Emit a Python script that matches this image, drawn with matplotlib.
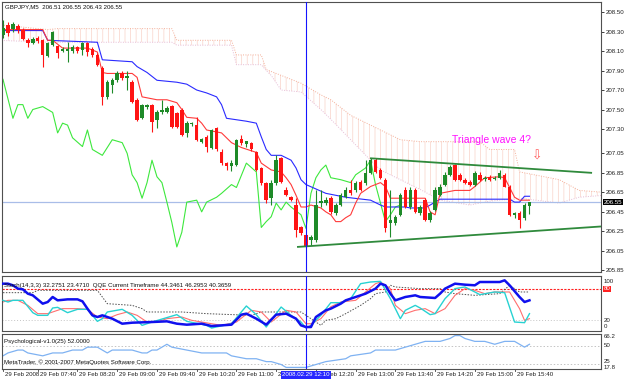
import numpy as np
import matplotlib
matplotlib.use("Agg")
import matplotlib.pyplot as plt

plt.rcParams['font.family'] = ['Liberation Sans', 'DejaVu Sans']
plt.rcParams['hatch.linewidth'] = 0.5

# ---------------- data (bar index 1 = 07:05, 5-minute bars) ----------------
bar_index = list(range(1, 108))
opens = [208.26, 208.37, 208.33, 208.36, 208.32, 208.21, 208.18, 208.23, 208.21, 208.05,
         208.16, 208.15, 208.10, 208.10, 208.10, 208.14, 208.11, 208.18, 208.12, 208.06,
         207.93, 207.63, 207.75, 207.80, 207.87, 207.82, 207.78, 207.60, 207.41, 207.53,
         207.55, 207.39, 207.47, 207.47, 207.54, 207.46, 207.50, 207.26, 207.35, 207.34,
         207.17, 207.22, 207.11, 207.31, 207.06, 206.95, 206.92, 206.93, 207.20, 207.15,
         207.16, 207.06, 206.90, 206.75, 206.59, 206.75, 207.00, 206.67, 206.60, 206.52,
         206.29, 206.21, 206.16, 206.16, 206.54, 206.54, 206.59, 206.44, 206.52, 206.60,
         206.67, 206.67, 206.76, 206.75, 206.85, 206.98, 206.88, 206.78, 206.34, 206.34,
         206.42, 206.67, 206.50, 206.67, 206.44, 206.57, 206.37, 206.47, 206.62, 206.73,
         206.83, 206.93, 206.83, 206.78, 206.76, 206.73, 206.83, 206.79, 206.81, 206.79,
         206.80, 206.83, 206.71, 206.42, 206.44, 206.39, 206.51]
highs = [208.42, 208.40, 208.40, 208.38, 208.34, 208.23, 208.24, 208.25, 208.22, 208.19,
         208.31, 208.16, 208.14, 208.19, 208.16, 208.15, 208.19, 208.19, 208.14, 208.08,
         207.95, 207.80, 207.82, 207.89, 207.89, 207.89, 207.80, 207.62, 207.56, 207.56,
         207.56, 207.50, 207.60, 207.54, 207.55, 207.47, 207.52, 207.38, 207.37, 207.42,
         207.21, 207.24, 207.30, 207.32, 207.09, 206.96, 206.98, 207.20, 207.24, 207.18,
         207.17, 207.07, 206.91, 206.76, 206.78, 207.03, 207.01, 206.70, 206.61, 206.59,
         206.30, 206.22, 206.21, 206.67, 206.67, 206.60, 206.61, 206.54, 206.64, 206.70,
         206.78, 206.77, 206.78, 206.98, 207.00, 207.00, 206.90, 206.80, 206.67, 206.42,
         206.64, 206.70, 206.70, 206.69, 206.52, 206.59, 206.46, 206.70, 206.74, 206.86,
         206.93, 206.94, 206.85, 206.80, 206.78, 206.87, 206.86, 206.82, 206.83, 206.82,
         206.88, 206.85, 206.73, 206.45, 206.46, 206.54, 206.55]
lows = [208.23, 208.25, 208.30, 208.29, 208.21, 208.14, 208.17, 208.18, 207.94, 208.04,
        208.15, 208.03, 208.09, 207.99, 208.08, 208.08, 208.06, 208.05, 208.04, 207.95,
        207.55, 207.61, 207.67, 207.78, 207.80, 207.70, 207.57, 207.38, 207.40, 207.51,
        207.27, 207.31, 207.45, 207.46, 207.31, 207.31, 207.23, 207.22, 207.33, 207.18,
        207.16, 207.06, 207.10, 207.07, 206.93, 206.88, 206.87, 206.92, 207.14, 207.12,
        207.07, 206.87, 206.73, 206.54, 206.52, 206.73, 206.75, 206.61, 206.56, 206.19,
        206.21, 206.08, 206.11, 206.14, 206.50, 206.52, 206.43, 206.42, 206.51, 206.59,
        206.62, 206.65, 206.66, 206.73, 206.84, 206.85, 206.79, 206.24, 206.19, 206.32,
        206.41, 206.49, 206.48, 206.44, 206.42, 206.36, 206.35, 206.46, 206.61, 206.72,
        206.82, 206.77, 206.77, 206.74, 206.72, 206.72, 206.77, 206.77, 206.77, 206.78,
        206.79, 206.70, 206.41, 206.39, 206.28, 206.37, 206.43]
closes = [208.34, 208.29, 208.38, 208.32, 208.22, 208.18, 208.22, 208.20, 208.06, 208.18,
          208.30, 208.08, 208.12, 208.12, 208.14, 208.10, 208.18, 208.09, 208.06, 207.96,
          207.63, 207.78, 207.80, 207.87, 207.82, 207.84, 207.58, 207.39, 207.55, 207.55,
          207.37, 207.47, 207.50, 207.52, 207.32, 207.32, 207.24, 207.36, 207.36, 207.19,
          207.20, 207.12, 207.29, 207.09, 206.95, 206.92, 206.95, 207.19, 207.16, 207.18,
          207.09, 206.88, 206.75, 206.57, 206.75, 206.98, 206.76, 206.62, 206.57, 206.26,
          206.23, 206.09, 206.19, 206.52, 206.56, 206.57, 206.45, 206.52, 206.62, 206.67,
          206.64, 206.75, 206.67, 206.85, 206.98, 206.86, 206.80, 206.28, 206.37, 206.40,
          206.62, 206.50, 206.67, 206.45, 206.50, 206.37, 206.44, 206.67, 206.71, 206.83,
          206.91, 206.78, 206.78, 206.75, 206.73, 206.85, 206.78, 206.80, 206.78, 206.80,
          206.85, 206.71, 206.42, 206.44, 206.37, 206.52, 206.55]

tenkan_i = [1, 9, 10, 11, 13, 18, 20, 21, 22, 27, 28, 29, 32, 34, 36, 37, 38, 40, 41, 42,
            45, 47, 49, 52, 53, 55, 57, 58, 59, 60, 61, 62, 63, 65, 66, 67, 68, 69, 70, 71,
            72, 73, 75, 76, 77, 78, 79, 86, 87, 88, 89, 92, 95, 96, 98, 101, 102, 103, 104, 105, 107]
tenkan_v = [208.32, 208.32, 208.21, 208.21, 208.13, 208.13, 208.09, 207.88, 207.87, 207.87,
            207.83, 207.63, 207.60, 207.60, 207.57, 207.50, 207.42, 207.41, 207.36, 207.29,
            207.26, 207.16, 207.11, 207.06, 206.95, 206.88, 206.86, 206.80, 206.73, 206.62,
            206.50, 206.50, 206.52, 206.49, 206.45, 206.42, 206.35, 206.35, 206.39, 206.42,
            206.54, 206.64, 206.71, 206.73, 206.75, 206.71, 206.59, 206.59, 206.45, 206.42,
            206.64, 206.67, 206.67, 206.71, 206.80, 206.81, 206.80, 206.70, 206.60, 206.57, 206.57]

kijun_i = [1, 9, 10, 20, 21, 27, 28, 30, 32, 36, 38, 40, 42, 44, 45, 46, 50, 52, 53, 54,
           55, 57, 59, 60, 61, 62, 66, 70, 75, 77, 78, 82, 83, 86, 89, 103, 104, 105, 106, 107]
kijun_v = [208.31, 208.31, 208.21, 208.19, 208.01, 207.99, 207.94, 207.88, 207.80, 207.78,
           207.76, 207.70, 207.67, 207.63, 207.55, 207.41, 207.38, 207.36, 207.22, 207.09,
           207.03, 207.03, 206.98, 206.90, 206.78, 206.73, 206.64, 206.60, 206.57, 206.52,
           206.50, 206.50, 206.49, 206.49, 206.58, 206.58, 206.55, 206.55, 206.61, 206.61]

chikou_i = [1, 3, 4, 5, 6, 7, 9, 11, 12, 13, 14, 15, 17, 18, 19, 21, 23, 25, 26, 27,
            28, 29, 30, 31, 32, 33, 34, 35, 36, 37, 38, 40, 41, 42, 44, 45, 47, 48, 50, 52,
            53, 54, 55, 56, 57, 58, 59, 61, 62, 63, 64, 65, 66, 67, 69, 71, 72, 74, 75, 76,
            78, 79, 80, 81]
chikou_v = [207.81, 207.41, 207.55, 207.55, 207.41, 207.50, 207.53, 207.47, 207.26, 207.36,
            207.34, 207.21, 207.12, 207.29, 207.09, 207.03, 207.19, 207.16, 207.05, 206.83,
            206.75, 206.59, 206.75, 206.98, 206.81, 206.75, 206.55, 206.34, 206.09, 206.24,
            206.55, 206.57, 206.45, 206.55, 206.60, 206.64, 206.73, 206.70, 206.95, 206.86,
            206.29, 206.35, 206.40, 206.54, 206.47, 206.55, 206.50, 206.42, 206.28, 206.64,
            206.80, 206.88, 206.93, 206.80, 206.78, 206.75, 206.83, 206.90, 206.98, 206.73,
            206.35, 206.42, 206.50, 206.52]

cloud_i = [0, 10, 12, 35, 36, 47, 48, 53, 54, 55, 57, 61, 65, 67, 71, 75, 77, 81, 83, 85,
           89, 95, 97, 99, 101, 104, 105, 113, 117, 122]
span_a = [208.37, 208.32, 208.33, 208.33, 208.21, 208.21, 208.06, 208.06, 207.91, 207.89,
          207.85, 207.77, 207.65, 207.60, 207.44, 207.34, 207.29, 207.19, 207.18, 207.17,
          207.17, 207.17, 207.17, 207.09, 207.09, 207.09, 206.86, 206.78, 206.67, 206.65]
span_b = [208.21, 208.19, 208.19, 208.19, 208.16, 208.16, 207.96, 207.96, 207.90, 207.85,
          207.70, 207.68, 207.50, 207.40, 207.19, 206.98, 206.88, 206.78, 206.73, 206.68,
          206.57, 206.52, 206.54, 206.56, 206.57, 206.58, 206.59, 206.54, 206.60, 206.62]

tri_upper_i = [74.9, 119.6]
tri_upper_v = [207.00, 206.85]
tri_lower_i = [60.2, 121.4]
tri_lower_v = [206.09, 206.30]

main_ticks = [208.50, 208.30, 208.10, 207.90, 207.70, 207.50, 207.30, 207.05,
              206.85, 206.65, 206.45, 206.25, 206.05, 205.85]
last_price = 206.55
cursor_bar = 62

qqe_i = [1, 2, 3, 4, 5, 6, 7, 9, 10, 11, 12, 14, 16, 17, 18, 19, 20, 21, 23, 25,
         27, 31, 34, 36, 38, 41, 43, 45, 47, 49, 50, 52, 54, 56, 58, 60, 61, 62, 63, 64,
         66, 67, 69, 70, 72, 74, 76, 77, 78, 79, 80, 82, 84, 85, 88, 89, 90, 92, 94, 96,
         97, 101, 102, 103, 105, 106, 107]
qqe_v = [89.6, 89.6, 86.5, 80.1, 78.8, 70.5, 67.3, 51.3, 54.5, 64.1, 57.7, 59.6, 59.6, 55.8,
         41.8, 29.0, 25.8, 29.0, 22.6, 13.0, 14.9, 16.2, 17.5, 13.0, 11.1, 13.0, 8.5, 9.8,
         11.1, 30.3, 32.2, 22.6, 11.1, 30.3, 32.2, 22.6, 9.8, 6.6, 6.6, 25.8, 38.6, 41.8,
         51.3, 57.7, 64.1, 70.5, 80.1, 89.6, 86.5, 70.5, 57.7, 64.1, 67.3, 64.1, 62.2, 70.5,
         80.1, 89.6, 87.7, 86.5, 92.8, 92.8, 96.0, 86.5, 64.1, 54.5, 57.7]
stoch_i = [1, 2, 3, 5, 7, 8, 10, 11, 12, 14, 16, 18, 20, 21, 22, 25, 27, 29, 31, 36,
           38, 42, 43, 47, 50, 52, 54, 57, 59, 61, 62, 63, 65, 67, 69, 71, 73, 75, 77, 79,
           81, 82, 84, 85, 87, 88, 90, 92, 94, 96, 97, 100, 102, 104, 106, 107]
stoch_v = [57.7, 54.5, 57.7, 57.7, 34.1, 29.0, 29.0, 43.0, 44.3, 34.1, 40.5, 40.5, 17.5,
           22.6, 35.4, 40.5, 29.0, 9.8, 16.2, 30.3, 17.5, 9.8, 4.7, 13.0, 46.9, 30.3, 6.6,
           44.9, 29.0, 16.2, 4.7, 9.8, 29.0, 53.2, 53.2, 60.9, 89.6, 92.8, 94.1, 60.9, 22.6,
           38.6, 48.1, 43.0, 30.3, 32.2, 60.9, 80.1, 83.3, 73.7, 68.6, 73.7, 72.4, 16.2,
           14.9, 32.2]
signal_i = [1, 2, 4, 6, 8, 10, 12, 13, 16, 18, 20, 22, 24, 26, 28, 30, 32, 34, 37, 39,
            43, 45, 48, 51, 53, 55, 58, 60, 62, 63, 65, 67, 69, 72, 74, 76, 77, 79, 80, 82,
            84, 86, 88, 90, 92, 94, 96, 98, 100, 103, 105, 106, 107]
signal_v = [54.5, 57.7, 57.7, 48.1, 32.2, 32.2, 38.6, 41.8, 41.8, 40.5, 25.8, 22.6, 30.3,
            35.4, 29.0, 16.2, 16.2, 22.6, 25.8, 19.4, 12.9, 9.8, 16.2, 38.6, 35.4, 16.2,
            38.6, 35.4, 12.9, 12.9, 22.6, 45.5, 54.5, 57.7, 73.7, 89.6, 92.8, 80.1, 48.1,
            32.2, 38.6, 41.8, 32.2, 41.8, 67.3, 80.1, 76.9, 70.5, 73.7, 73.7, 41.8, 19.4, 22.6]
qqe_slow_i = [1, 7, 8, 20, 22, 27, 29, 30, 37, 42, 51, 53, 61, 63, 65, 66, 68, 70, 73, 75,
              76, 78, 79, 80, 85, 89, 90, 92, 96, 101, 103, 105, 107]
qqe_slow_v = [72.4, 72.4, 76.9, 76.9, 51.3, 48.1, 41.8, 35.4, 35.4, 32.2, 29.0, 35.4, 35.4,
              22.6, 9.8, 19.4, 22.6, 32.2, 48.1, 60.9, 70.5, 73.7, 86.5, 83.3, 80.1, 80.1,
              73.7, 70.5, 67.3, 70.5, 86.5, 73.7, 73.7]

psy_i = [1, 2, 4, 5, 6, 9, 11, 12, 13, 15, 17, 18, 20, 21, 22, 23, 25, 27, 29, 30,
         31, 32, 34, 35, 38, 41, 43, 46, 47, 50, 52, 54, 55, 57, 58, 62, 64, 66, 70, 71,
         75, 76, 80, 82, 84, 86, 89, 91, 92, 93, 94, 96, 97, 98, 100, 102, 104, 106, 107]
psy_v = [36, 40, 44, 44, 40, 36, 40, 40, 40, 44, 44, 48, 48, 44, 40, 44, 44, 44, 40, 40,
         44, 44, 52, 48, 44, 40, 40, 40, 36, 32, 32, 28, 28, 24, 20, 20, 24, 28, 32, 36,
         40, 44, 44, 48, 52, 56, 56, 60, 64, 64, 60, 56, 56, 56, 52, 56, 56, 48, 52]

time_label_bars = [1, 8, 16, 24, 32, 40, 48, 56, 64, 72, 80, 88, 96, 104]
time_labels = ["29 Feb 2008", "29 Feb 07:40", "29 Feb 08:20", "29 Feb 09:00", "29 Feb 09:40",
               "29 Feb 10:20", "29 Feb 11:00", "29 Feb 11:40", "29 Feb 12:20", "29 Feb 13:00",
               "29 Feb 13:40", "29 Feb 14:20", "29 Feb 15:00", "29 Feb 15:40"]
cursor_label = "2008.02.29 12:10"

# ---------------- layout ----------------
W, H = 625, 380
fig = plt.figure(figsize=(W / 100, H / 100), dpi=100)
fig.patch.set_facecolor('white')


def rect(l, t, r, b):
    return [l / W, 1 - b / H, (r - l) / W, (b - t) / H]


ax = fig.add_axes(rect(2, 2, 601, 272))
ax2 = fig.add_axes(rect(2, 276, 601, 331))
ax3 = fig.add_axes(rect(2, 334, 601, 369))
XL = (0.8, 121.4)
FS = 4.4
for a in (ax, ax2, ax3):
    a.set_xlim(*XL)
    a.set_xticks([])
    for s in a.spines.values():
        s.set_color('#505050')
        s.set_linewidth(0.8)
    a.axvline(cursor_bar, color='#1414ff', lw=0.8, zorder=6)

# ---------------- main panel ----------------
ax.set_ylim(205.833, 208.603)
ax.yaxis.tick_right()
ax.set_yticks(main_ticks)
ax.set_yticklabels([f"{t:.2f}" for t in main_ticks])
ax.tick_params(axis='y', labelsize=FS, length=2, pad=1.5, colors='#202020', width=0.6)

ax.fill_between(cloud_i, span_a, span_b, facecolor='none', edgecolor='#f8d2c8',
                hatch='|||', linewidth=0, zorder=1)
ax.plot(cloud_i, span_a, color='#f4b09a', lw=0.7, ls=(0, (1, 1.5)), zorder=1)
ax.plot(cloud_i, span_b, color='#e6bcd6', lw=0.7, ls=(0, (1, 1.5)), zorder=1)

ax.axhline(last_price, color='#a9bde8', lw=0.9, zorder=1.5)

ax.plot(chikou_i, chikou_v, color='#3de83d', lw=0.8, zorder=2)
ax.plot(kijun_i, kijun_v, color='#2a2aff', lw=0.8, zorder=2)
ax.plot(tenkan_i, tenkan_v, color='#ff3a3a', lw=0.8, zorder=2)

o, h, l, c = map(np.array, (opens, highs, lows, closes))
x = np.array(bar_index)
up = c >= o
cols = np.where(up, '#1e8a28', '#ff1414')
ax.vlines(x, l, h, colors=cols, lw=0.8, zorder=3)
ax.bar(x, np.maximum(np.abs(c - o), 0.012), bottom=np.minimum(o, c), width=0.7,
       color=cols, linewidth=0, zorder=3)

ax.plot(tri_upper_i, tri_upper_v, color='#2f8a3c', lw=1.3, zorder=4, solid_capstyle='butt')
ax.plot(tri_lower_i, tri_lower_v, color='#2f8a3c', lw=1.3, zorder=4, solid_capstyle='butt')

ax.text(91.4, 207.19, "Triangle wave 4?", color='#ff10ff', fontsize=7.5,
        va='center', ha='left', zorder=5)
ax.text(108.6, 207.02, "\u21e9", color='#ff5a5a', fontsize=9, family='DejaVu Sans',
        va='center', ha='center', zorder=5)

ax.annotate(f"{last_price:.2f}", xy=(1, last_price), xycoords=('axes fraction', 'data'),
            xytext=(3, 0), textcoords='offset pixels', va='center', ha='left',
            fontsize=FS, color='white', zorder=7,
            bbox=dict(boxstyle='square,pad=0.12', fc='black', ec='none'))

fig.text(5 / W, 1 - 7 / H, "GBPJPY,M5  206.51 206.55 206.43 206.55", fontsize=FS,
         va='center', ha='left', color='#101010')

# ---------------- stochastic / QQE panel ----------------
ax2.set_ylim(-1.0, 104.3)
ax2.set_yticks([])
ax2.axhline(80, color='#ff2020', lw=0.8, ls=(0, (2, 1.2)), zorder=1)
ax2.axhline(20, color='#c4c4c4', lw=0.7, ls=(0, (1, 2)), zorder=1)
ax2.plot(qqe_slow_i, qqe_slow_v, color='#505050', lw=0.7, ls=(0, (1.5, 1.5)), zorder=2)
ax2.plot(signal_i, signal_v, color='#ff6f6f', lw=0.8, zorder=2)
ax2.plot(stoch_i, stoch_v, color='#28d2d2', lw=1.0, zorder=3)
ax2.plot(qqe_i, qqe_v, color='#1010ee', lw=1.8, zorder=4)
fig.text(4 / W, 1 - 285 / H,
         "Stoch(14,3,3) 32.2751 23.4710  QQE Current Timeframe 44.3461 46.2953 40.3659",
         fontsize=FS, va='center', ha='left', color='#101010')


def right_label(a, v, s, **kw):
    a.annotate(s, xy=(1, v), xycoords=('axes fraction', 'data'), xytext=(3, 0),
               textcoords='offset pixels', va='center', ha='left', fontsize=FS,
               annotation_clip=False, **kw)


right_label(ax2, 93, "100", color='#202020')
right_label(ax2, 80, "80", color='white',
            bbox=dict(boxstyle='square,pad=0.1', fc='#ff2020', ec='none'))
right_label(ax2, 20, "20", color='#202020')
right_label(ax2, 7, "0", color='#202020')

# ---------------- psychological panel ----------------
ax3.set_ylim(17.8, 66.2)
ax3.set_yticks([])
ax3.axhline(50, color='#c4c4c4', lw=0.7, ls=(0, (1.5, 2)), zorder=1)
ax3.axhline(25, color='#c4c4c4', lw=0.7, ls=(0, (1.5, 2)), zorder=1)
ax3.plot(psy_i, psy_v, color='#7fb2f2', lw=0.9, zorder=2)
fig.text(4 / W, 1 - 341 / H, "Psychological-v1.0(25) 52.0000", fontsize=FS,
         va='center', ha='left', color='#101010')
fig.text(4 / W, 1 - 362 / H, "MetaTrader, \u00a9 2001-2007 MetaQuotes Software Corp.",
         fontsize=FS, va='center', ha='left', color='#101010')
right_label(ax3, 63.0, "66.2", color='#202020')
right_label(ax3, 50, "50", color='#202020')
right_label(ax3, 27.5, "25", color='#202020')
right_label(ax3, 20.0, "17.8", color='#202020')

# ---------------- time axis ----------------
for b, s in zip(time_label_bars, time_labels):
    ax3.annotate(s, xy=(b, 0), xycoords=('data', 'axes fraction'), xytext=(2, -6),
                 textcoords='offset pixels', va='center', ha='left', fontsize=FS,
                 color='#202020', annotation_clip=False)
    ax3.plot([b, b], [0, -0.06], transform=ax3.get_xaxis_transform(), color='#404040',
             lw=0.6, clip_on=False)
ax3.annotate(cursor_label, xy=(cursor_bar, 0), xycoords=('data', 'axes fraction'),
             xytext=(0, -6), textcoords='offset pixels', va='center', ha='center',
             fontsize=FS, color='white', annotation_clip=False, zorder=8,
             bbox=dict(boxstyle='square,pad=0.2', fc='#2727ff', ec='none'))

fig.savefig('out.png', dpi=100, facecolor='white')
